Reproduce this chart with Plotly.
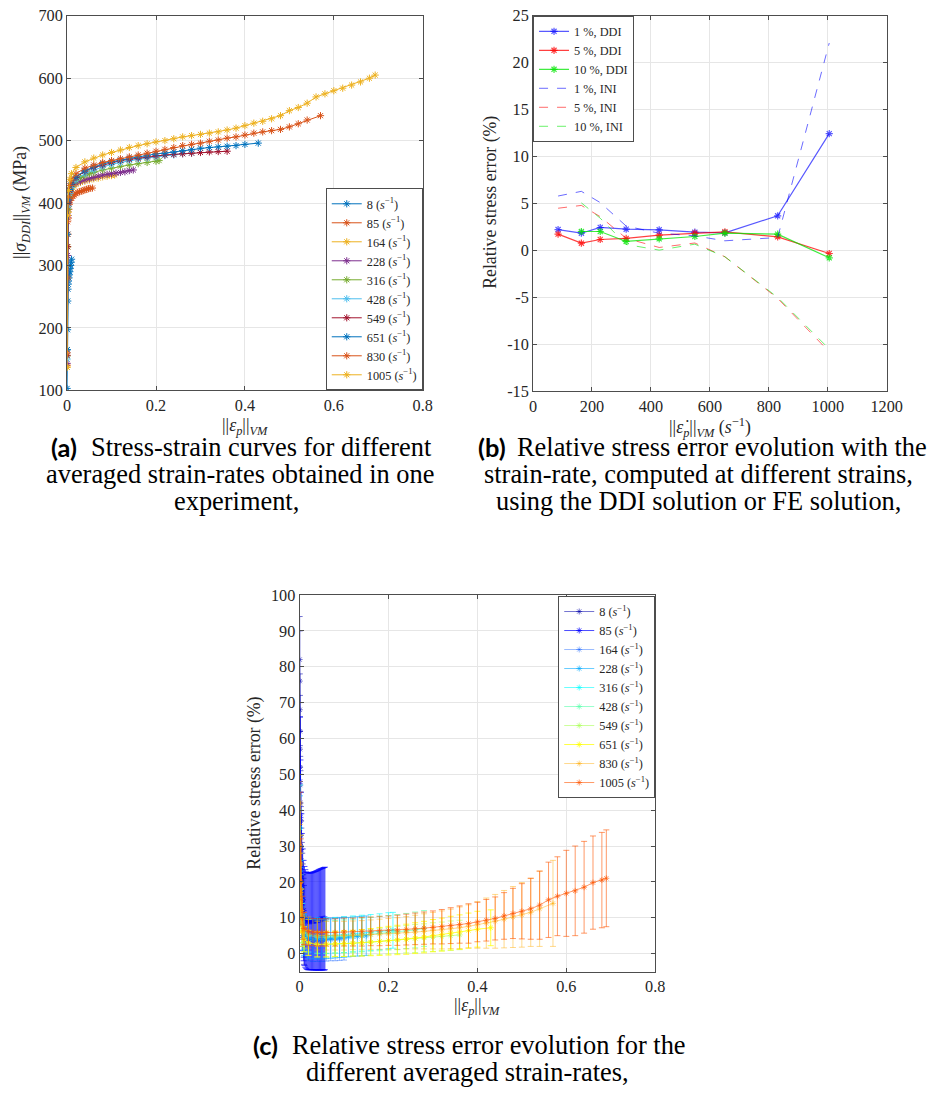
import plotly.graph_objects as go

W, H = 934, 1104

# ---------------- (a) stress-strain curves ----------------
rates = [8, 85, 164, 228, 316, 428, 549, 651, 830, 1005]
a_colors = ["#0072BD", "#D95319", "#EDB120", "#7E2F8E", "#77AC30",
            "#4DBEEE", "#A2142F", "#0072BD", "#D95319", "#EDB120"]

a_strain_8 = [0, 0.0005, 0.001, 0.0015, 0.002, 0.0025, 0.003, 0.004, 0.005, 0.006, 0.007, 0.008, 0.009, 0.01]
a_stress_8 = [103, 165, 197, 243, 262, 270, 275, 280, 285, 290, 295, 300, 305, 310]

a_strain_85 = [0, 0.001, 0.002, 0.003, 0.004, 0.005, 0.007, 0.01, 0.013, 0.016, 0.02, 0.024, 0.028, 0.032, 0.036, 0.04, 0.044, 0.048, 0.052, 0.057]
a_stress_85 = [140, 280, 350, 376, 390, 398, 404, 408, 411, 413, 415, 417, 418, 419, 420, 421, 422, 423, 423.5, 424]

a_strain_164 = [0, 0.001, 0.002, 0.004, 0.006, 0.01, 0.015, 0.02, 0.03, 0.04, 0.05, 0.06, 0.07, 0.08, 0.09, 0.1, 0.107]
a_stress_164 = [137, 330, 385, 405, 415, 422, 427, 430, 433, 435, 437, 439, 440, 442, 443, 444, 445]

a_strain_228 = [0, 0.001, 0.002, 0.004, 0.007, 0.01, 0.02, 0.03, 0.04, 0.05, 0.06, 0.07, 0.08, 0.09, 0.1, 0.11, 0.12, 0.13, 0.14, 0.149]
a_stress_228 = [143, 316, 380, 405, 418, 425, 432, 435, 437, 439, 441, 443, 445, 446, 447, 448, 449, 450, 452, 453]

a_strain_316 = [0, 0.001, 0.002, 0.004, 0.007, 0.01, 0.02, 0.03, 0.04, 0.05, 0.06, 0.08, 0.1, 0.12, 0.14, 0.16, 0.18, 0.2, 0.207]
a_stress_316 = [155, 330, 390, 410, 420, 427, 436, 441, 444, 447, 449, 453, 456, 459, 461, 463, 465, 467, 468]

a_strain_428 = [0, 0.001, 0.003, 0.006, 0.01, 0.02, 0.04, 0.06, 0.08, 0.1, 0.12, 0.14, 0.16, 0.18, 0.2, 0.22, 0.24, 0.26, 0.28]
a_stress_428 = [150, 300, 395, 415, 425, 437, 447, 453, 458, 462, 465, 468, 470, 472, 474, 476, 477, 479, 480]

a_strain_549 = [0, 0.001, 0.003, 0.006, 0.01, 0.02, 0.04, 0.06, 0.08, 0.1, 0.12, 0.14, 0.16, 0.18, 0.2, 0.22, 0.24, 0.26, 0.28, 0.3, 0.32, 0.34, 0.36]
a_stress_549 = [156, 330, 400, 420, 430, 441, 451, 457, 461, 465, 468, 470, 472, 474, 476, 477, 478, 479, 480, 481, 482, 482.5, 483]

a_strain_651 = [0, 0.001, 0.003, 0.006, 0.01, 0.02, 0.04, 0.06, 0.08, 0.1, 0.12, 0.14, 0.16, 0.18, 0.2, 0.22, 0.24, 0.26, 0.28, 0.3, 0.32, 0.34, 0.36, 0.38, 0.4, 0.43]
a_stress_651 = [165, 350, 405, 422, 432, 442, 452, 458, 463, 466, 469, 472, 474, 476, 479, 480, 482, 484, 486, 488, 489, 490, 491, 492, 494, 496]

a_strain_830 = [0, 0.001, 0.003, 0.006, 0.01, 0.02, 0.04, 0.06, 0.08, 0.1, 0.12, 0.14, 0.16, 0.18, 0.2, 0.22, 0.24, 0.26, 0.28, 0.3, 0.32, 0.34, 0.36, 0.38, 0.4, 0.42, 0.44, 0.46, 0.48, 0.5, 0.52, 0.54, 0.57]
a_stress_830 = [160, 370, 410, 428, 437, 447, 456, 461, 465, 468, 471, 474, 477, 480, 483, 486, 489, 492, 494, 496, 499, 501, 504, 506, 509, 512, 514, 516, 518, 522, 527, 533, 540]

a_strain_1005 = [0, 0.001, 0.003, 0.006, 0.01, 0.02, 0.04, 0.06, 0.08, 0.1, 0.12, 0.14, 0.16, 0.18, 0.2, 0.22, 0.24, 0.26, 0.28, 0.3, 0.32, 0.34, 0.36, 0.38, 0.4, 0.42, 0.44, 0.46, 0.48, 0.5, 0.52, 0.54, 0.56, 0.58, 0.6, 0.62, 0.64, 0.66, 0.68, 0.693]
a_stress_1005 = [137, 380, 420, 438, 447, 457, 466, 472, 477, 481, 485, 489, 492, 495, 498, 500, 503, 506, 508, 510, 512, 514, 517, 520, 524, 528, 531, 535, 540, 548, 553, 560, 570, 575, 580, 584, 589, 594, 600, 605]

a_strains = [a_strain_8, a_strain_85, a_strain_164, a_strain_228, a_strain_316,
             a_strain_428, a_strain_549, a_strain_651, a_strain_830, a_strain_1005]
a_stresses = [a_stress_8, a_stress_85, a_stress_164, a_stress_228, a_stress_316,
              a_stress_428, a_stress_549, a_stress_651, a_stress_830, a_stress_1005]

# ---------------- (b) relative error vs strain rate ----------------
b_rate = [85, 164, 228, 316, 428, 549, 651, 830, 1005]
b_ddi_1 = [2.23, 1.84, 2.45, 2.27, 2.2, 1.95, 1.88, 3.69, 12.45]
b_ddi_5 = [1.74, 0.78, 1.17, 1.28, 1.63, 1.84, 1.99, 1.45, -0.32]
b_ddi_10 = [None, 2.02, 2.02, 0.96, 1.24, 1.49, 1.84, 1.74, -0.78]
b_ini_1 = [5.8, 6.3, 5.1, 2.6, 1.84, 1.56, 1.03, 1.38, 22.1]
b_ini_5 = [4.5, 4.8, 3.6, 1.3, 0.32, 0.8, -0.67, -5.1, -10.8]
b_ini_10 = [None, 5.07, 3.44, 0.64, 0.04, 0.67, -0.67, -5.0, -10.5]

# ---------------- (c) relative error vs strain ----------------
c_colors = ["rgba(0,0,170,0.55)", "rgba(0,0,255,0.7)", "rgba(0,85,255,0.4)",
            "rgba(0,170,255,0.6)", "rgba(0,255,255,0.6)", "rgba(85,255,170,0.6)",
            "rgba(170,255,85,0.6)", "rgba(255,255,0,0.75)", "rgba(255,170,0,0.45)",
            "rgba(255,85,0,0.6)"]

c_x_8 = [0.0002, 0.0004, 0.0006, 0.0008, 0.001, 0.0012, 0.0015, 0.002, 0.0025, 0.003, 0.0035, 0.004, 0.005, 0.006, 0.007, 0.008, 0.009, 0.01]
c_m_8 = [82, 76, 68, 62, 57, 52, 47, 42, 37, 33, 29, 26, 22, 18, 15, 12, 10, 8]
c_e_8 = [12, 14, 10, 10, 9, 10, 8, 9, 8, 8, 8, 9, 9, 10, 10, 10, 11, 11]

c_x_85 = [0.001, 0.002, 0.003, 0.004, 0.005, 0.007, 0.009, 0.011, 0.013, 0.015, 0.017, 0.019, 0.021, 0.023, 0.025, 0.027, 0.029, 0.031, 0.033, 0.035, 0.037, 0.039, 0.041, 0.043, 0.045, 0.047, 0.049, 0.051, 0.053, 0.055, 0.057]
c_m_85 = [48, 38, 30, 24, 19, 15, 12, 10.5, 9.8, 9.3, 9.1, 9.0, 9.0, 9.0, 9.0, 9.0, 9.1, 9.1, 9.1, 9.2, 9.2, 9.3, 9.3, 9.4, 9.5, 9.5, 9.6, 9.6, 9.7, 9.7, 9.8]
c_e_85 = [18, 16, 15, 15, 14.5, 14.2, 14, 13.8, 13.6, 13.5, 13.5, 13.5, 13.5, 13.5, 13.5, 13.5, 13.6, 13.6, 13.7, 13.7, 13.8, 13.8, 13.9, 14, 14, 14.1, 14.1, 14.2, 14.2, 14.3, 14.3]

c_x_164 = [0.001, 0.003, 0.006, 0.01, 0.02, 0.03, 0.04, 0.05, 0.06, 0.07, 0.08, 0.09, 0.1]
c_m_164 = [35, 18, 8, 5, 4, 3.8, 3.8, 3.8, 3.9, 4, 4, 4.1, 4.2]
c_e_164 = [15, 10, 7, 6, 6, 6, 6, 6, 6, 6, 6, 6, 6]

c_x_228 = [0.001, 0.003, 0.006, 0.01, 0.02, 0.03, 0.04, 0.05, 0.06, 0.07, 0.08, 0.09, 0.1, 0.11, 0.12, 0.13, 0.14, 0.15]
c_m_228 = [30, 16, 8, 5, 4.2, 4, 4, 4, 4.1, 4.2, 4.3, 4.4, 4.5, 4.6, 4.7, 4.8, 4.9, 5]
c_e_228 = [14, 8, 6, 5.5, 5.5, 5.5, 5.5, 5.5, 5.5, 5.5, 5.5, 5.5, 5.5, 5.5, 5.5, 5.5, 5.5, 5.5]

c_x_316 = [0.001, 0.003, 0.006, 0.01, 0.02, 0.04, 0.06, 0.08, 0.1, 0.12, 0.14, 0.16, 0.18, 0.2, 0.21]
c_m_316 = [35, 18, 9, 6, 5.2, 5, 5, 5.1, 5.3, 5.5, 5.7, 5.9, 6.1, 6.4, 6.5]
c_e_316 = [12, 8, 5, 5, 5, 5, 5, 5, 5, 5, 5, 5, 5, 5, 5]

c_x_428 = [0.001, 0.003, 0.006, 0.01, 0.02, 0.04, 0.06, 0.08, 0.1, 0.12, 0.14, 0.16, 0.18, 0.2, 0.22, 0.24, 0.26, 0.28]
c_m_428 = [30, 15, 8, 6, 5, 4.6, 4.6, 4.7, 4.8, 5, 5.2, 5.4, 5.6, 5.8, 6, 6.3, 6.6, 7]
c_e_428 = [10, 7, 5, 4.5, 4.5, 4.5, 4.5, 4.5, 4.6, 4.6, 4.7, 4.7, 4.8, 4.8, 4.9, 4.9, 5, 5]

c_x_549 = [0.001, 0.003, 0.006, 0.01, 0.02, 0.04, 0.06, 0.08, 0.1, 0.12, 0.14, 0.16, 0.18, 0.2, 0.22, 0.24, 0.26, 0.28, 0.3, 0.32, 0.34, 0.36]
c_m_549 = [25, 14, 7, 4, 3, 2.5, 2.5, 2.6, 2.7, 2.8, 3, 3.2, 3.4, 3.6, 3.8, 4, 4.2, 4.4, 4.6, 4.8, 5, 5.2]
c_e_549 = [8, 6, 4, 3.5, 3.5, 3.5, 3.5, 3.5, 3.5, 3.5, 3.6, 3.6, 3.7, 3.7, 3.8, 3.8, 3.9, 3.9, 4, 4, 4.1, 4.1]

c_x_651 = [0.001, 0.003, 0.006, 0.01, 0.02, 0.04, 0.06, 0.08, 0.1, 0.12, 0.14, 0.16, 0.18, 0.2, 0.22, 0.24, 0.26, 0.28, 0.3, 0.32, 0.34, 0.36, 0.38, 0.4, 0.43]
c_m_651 = [20, 12, 6, 4, 3, 2.6, 2.6, 2.7, 2.8, 2.9, 3, 3.2, 3.4, 3.6, 3.8, 4, 4.3, 4.6, 5, 5.3, 5.7, 6, 6.4, 6.8, 7.2]
c_e_651 = [8, 6, 4, 3.5, 3.5, 3.5, 3.5, 3.5, 3.6, 3.6, 3.7, 3.8, 3.9, 4, 4.1, 4.2, 4.3, 4.4, 4.5, 4.6, 4.7, 4.8, 4.9, 5, 5]

c_x_830 = [0.001, 0.003, 0.006, 0.01, 0.02, 0.04, 0.06, 0.08, 0.1, 0.12, 0.14, 0.16, 0.18, 0.2, 0.22, 0.24, 0.26, 0.28, 0.3, 0.32, 0.34, 0.36, 0.38, 0.4, 0.42, 0.44, 0.46, 0.48, 0.5, 0.52, 0.54, 0.57]
c_m_830 = [42, 25, 12, 7, 5.5, 5, 5, 5, 5, 5.1, 5.2, 5.3, 5.4, 5.5, 5.6, 5.8, 6, 6.2, 6.4, 6.6, 6.9, 7.2, 7.6, 8, 8.5, 9, 9.6, 10.2, 10.8, 11.5, 12.5, 14]
c_e_830 = [6, 8, 6, 4.5, 4, 4, 4, 4, 4, 4, 4, 4.1, 4.2, 4.3, 4.4, 4.5, 4.7, 4.9, 5.1, 5.3, 5.5, 5.8, 6, 6.5, 7, 7.5, 8, 8.5, 9, 9.5, 10.5, 12]

c_x_1005 = [0.001, 0.003, 0.006, 0.01, 0.02, 0.03, 0.04, 0.05, 0.06, 0.08, 0.1, 0.12, 0.14, 0.16, 0.18, 0.2, 0.22, 0.24, 0.26, 0.28, 0.3, 0.32, 0.34, 0.36, 0.38, 0.4, 0.42, 0.44, 0.46, 0.48, 0.5, 0.52, 0.54, 0.56, 0.58, 0.6, 0.62, 0.64, 0.66, 0.68, 0.69]
c_m_1005 = [30, 20, 10, 7, 6.2, 6, 5.9, 5.9, 5.9, 5.9, 6, 6, 6.1, 6.2, 6.3, 6.4, 6.5, 6.7, 6.9, 7.1, 7.3, 7.5, 7.8, 8.1, 8.4, 8.8, 9.3, 9.8, 10.5, 11.2, 11.8, 12.5, 13.5, 15, 16, 16.8, 17.5, 18.5, 19.8, 20.5, 21]
c_e_1005 = [15, 12, 6, 4.5, 4, 3.8, 3.8, 3.8, 3.8, 3.8, 3.9, 3.9, 4, 4, 4.1, 4.1, 4.2, 4.3, 4.4, 4.5, 4.6, 4.8, 5, 5.2, 5.5, 5.5, 5.8, 6, 6.5, 7, 7.7, 8.5, 9.5, 10.5, 11, 12, 12.5, 12.8, 13, 13.3, 13.5]

c_xs = [c_x_8, c_x_85, c_x_164, c_x_228, c_x_316, c_x_428, c_x_549, c_x_651, c_x_830, c_x_1005]
c_ms = [c_m_8, c_m_85, c_m_164, c_m_228, c_m_316, c_m_428, c_m_549, c_m_651, c_m_830, c_m_1005]
c_es = [c_e_8, c_e_85, c_e_164, c_e_228, c_e_316, c_e_428, c_e_549, c_e_651, c_e_830, c_e_1005]

# ---------------- helpers: target pixel positions -> paper coords ----------------
# the photographed page comes out slightly scaled/shifted; compensate
S, OX, OY = 0.985, 0.5, 7.2

def px_x(p):
    return ((p - OX) / S) / W

def px_y(p):
    return 1 - ((p - OY) / S) / H

def fs(v):
    return round(v / S, 2)

SERIF = "Liberation Serif, Times New Roman, serif"
TXT = "#262626"

def rate_label(r):
    return f"{r} (<i>s</i><sup>−1</sup>)"

fig = go.Figure()

# (a)
for r, xs, ys, col in zip(rates, a_strains, a_stresses, a_colors):
    fig.add_trace(go.Scatter(
        x=xs, y=ys, mode="lines+markers", name=rate_label(r),
        line=dict(color=col, width=1),
        marker=dict(symbol="asterisk-open", size=6, color=col, line=dict(width=1, color=col)),
        xaxis="x", yaxis="y", legend="legend"))

# (b)
b_specs = [
    ("1 %, DDI", b_ddi_1, "rgba(0,0,255,0.65)", "solid", True),
    ("5 %, DDI", b_ddi_5, "rgba(255,0,0,0.75)", "solid", True),
    ("10 %, DDI", b_ddi_10, "rgba(0,230,0,0.75)", "solid", True),
    ("1 %, INI", b_ini_1, "rgba(0,0,255,0.65)", "dash", False),
    ("5 %, INI", b_ini_5, "rgba(255,0,0,0.65)", "dash", False),
    ("10 %, INI", b_ini_10, "rgba(0,230,0,0.65)", "dash", False),
]
for name, vals, col, dash, mk in b_specs:
    fig.add_trace(go.Scatter(
        x=b_rate, y=vals, mode="lines+markers" if mk else "lines", name=name,
        line=dict(color=col, width=1.2 if mk else 0.9, dash=dash),
        marker=dict(symbol="asterisk-open", size=6, color=col, line=dict(width=1.2, color=col)),
        connectgaps=False, xaxis="x2", yaxis="y2", legend="legend2"))

# (c)
for r, xs, ms, es, col in zip(rates, c_xs, c_ms, c_es, c_colors):
    fig.add_trace(go.Scatter(
        x=xs, y=ms, mode="lines+markers", name=rate_label(r),
        line=dict(color=col, width=1),
        marker=dict(symbol="asterisk-open", size=5, color=col, line=dict(width=1, color=col)),
        error_y=dict(type="data", array=es, visible=True, color=col, thickness=1, width=3),
        xaxis="x3", yaxis="y3", legend="legend3"))

axis_common = dict(
    showline=True, linecolor="#4d4d4d", linewidth=1, mirror="ticks",
    ticks="inside", ticklen=4, tickcolor="#4d4d4d",
    showgrid=True, gridcolor="#e6e6e6", gridwidth=1, zeroline=False,
    tickfont=dict(family=SERIF, size=fs(16), color=TXT),
)

a_dom_x = [px_x(64), px_x(422)]
a_dom_y = [px_y(390), px_y(15)]
b_dom_x = [px_x(533), px_x(889)]
b_dom_y = [px_y(391), px_y(15)]
c_dom_x = [px_x(298), px_x(656)]
c_dom_y = [px_y(972), px_y(595)]

legend_common = dict(
    font=dict(family=SERIF, size=12.3, color=TXT),
    bgcolor="white", bordercolor="#4d4d4d", borderwidth=1,
    itemwidth=30, xref="paper", yref="paper", tracegroupgap=0,
)

fig.update_layout(
    width=W, height=H, autosize=False,
    margin=dict(l=0, r=0, t=0, b=0),
    paper_bgcolor="white", plot_bgcolor="white",
    xaxis=dict(domain=a_dom_x, range=[0, 0.8], tickvals=[0, 0.2, 0.4, 0.6, 0.8],
               ticktext=["0", "0.2", "0.4", "0.6", "0.8"], anchor="y", **axis_common),
    yaxis=dict(domain=a_dom_y, range=[100, 700], tickvals=[100, 200, 300, 400, 500, 600, 700],
               anchor="x", **axis_common),
    xaxis2=dict(domain=b_dom_x, range=[0, 1200], tickvals=[0, 200, 400, 600, 800, 1000, 1200],
                anchor="y2", **axis_common),
    yaxis2=dict(domain=b_dom_y, range=[-15, 25], tickvals=[-15, -10, -5, 0, 5, 10, 15, 20, 25],
                ticktext=["-15", "-10", "-5", "0", "5", "10", "15", "20", "25"],
                anchor="x2", **axis_common),
    xaxis3=dict(domain=c_dom_x, range=[0, 0.8], tickvals=[0, 0.2, 0.4, 0.6, 0.8],
                ticktext=["0", "0.2", "0.4", "0.6", "0.8"], anchor="y3", **axis_common),
    yaxis3=dict(domain=c_dom_y, range=[-5, 100], tickvals=[0, 10, 20, 30, 40, 50, 60, 70, 80, 90, 100],
                anchor="x3", **axis_common),
    legend=dict(x=px_x(422), y=px_y(390), xanchor="right", yanchor="bottom", **legend_common),
    legend2=dict(x=px_x(533), y=px_y(15), xanchor="left", yanchor="top", **legend_common),
    legend3=dict(x=px_x(656), y=px_y(596), xanchor="right", yanchor="top", **legend_common),
    showlegend=True,
)

title_font = dict(family=SERIF, size=fs(17.5), color=TXT)
ann = []

def add_text(x, y, text, font, angle=0, xanchor="center"):
    ann.append(dict(x=px_x(x), y=px_y(y), text=text, showarrow=False,
                    xref="paper", yref="paper", xanchor=xanchor, yanchor="middle",
                    font=font, textangle=angle))

eps = "||<i>ε</i><sub><i>p</i></sub>||<sub><i>VM</i></sub>"
add_text(243, 426, eps, title_font)
add_text(18, 202, "||<i>σ</i><sub><i>DDI</i></sub>||<sub><i>VM</i></sub> (MPa)", title_font, -90)
add_text(711, 427, "||<i>ε̇</i><sub><i>p</i></sub>||<sub><i>VM</i></sub> (<i>s</i><sup>−1</sup>)", title_font)
add_text(490, 202, "Relative stress error (%)", title_font, -90)
add_text(477, 1007, eps, title_font)
add_text(253, 783, "Relative stress error (%)", title_font, -90)

# captions
cap_font = dict(family=SERIF, size=fs(26), color="black")
lab_font = dict(family="Lato, Open Sans, sans-serif", size=fs(25), color="black")

add_text(61, 447, "<b>(a)</b>", lab_font)
add_text(86, 447, "Stress-strain curves for different", cap_font, xanchor="left")
add_text(238, 474, "averaged strain-rates obtained in one", cap_font)
add_text(235, 501, "experiment,", cap_font)

add_text(492, 447, "<b>(b)</b>", lab_font)
add_text(515, 447, "Relative stress error evolution with the", cap_font, xanchor="left")
add_text(700, 474, "strain-rate, computed at different strains,", cap_font)
add_text(700, 501, "using the DDI solution or FE solution,", cap_font)

add_text(264, 1046, "<b>(c)</b>", lab_font)
add_text(288, 1046, "Relative stress error evolution for the", cap_font, xanchor="left")
add_text(467, 1073, "different averaged strain-rates,", cap_font)

fig.update_layout(annotations=ann)

post = ("document.documentElement.style.margin='0px';"
        "document.body.style.margin='0px';document.body.style.padding='0px';")
fig.write_html("out.html", config={"displayModeBar": False}, post_script=post)
